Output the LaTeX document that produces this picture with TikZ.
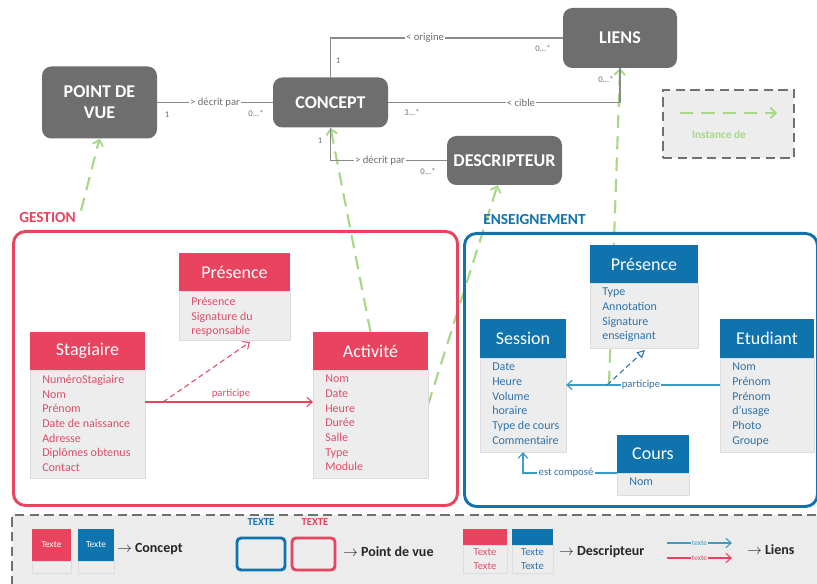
\documentclass[tikz,border=0pt]{standalone}
\usepackage{fontspec}
\setmainfont{Carlito}
\usetikzlibrary{arrows.meta,calc}
\definecolor{cred}{HTML}{E8435F}
\definecolor{cblue}{HTML}{0F74AE}
\definecolor{cgray}{HTML}{6E6E6E}
\definecolor{cbody}{HTML}{EDEDED}
\definecolor{cbodyline}{HTML}{DDDDDD}
\definecolor{cgreen}{HTML}{A6D888}
\definecolor{cattR}{HTML}{DC4F69}
\definecolor{cattB}{HTML}{2E73AA}
\definecolor{cline}{HTML}{8A8A8A}
\definecolor{clbl}{HTML}{6F6F6F}
\definecolor{cteal}{HTML}{3A9BC4}
\definecolor{clegbg}{HTML}{ECECEC}
\definecolor{cdash}{HTML}{707070}
\newcommand\hdrfont{\fontsize{13.5}{16}\selectfont}
\newcommand\attfont{\fontsize{9}{11}\selectfont}
\newcommand\lblfont{\fontsize{8}{9}\selectfont}
\newcommand\multfont{\fontsize{6.5}{7}\selectfont}
\pgfdeclarelayer{back}
\pgfsetlayers{back,main}
\begin{document}
\begin{tikzpicture}[x=0.75pt,y=-0.75pt,
  gnode/.style={fill=cgray, rounded corners=7pt, text=white, font=\bfseries\hdrfont, align=center, inner sep=0pt},
  ent/.style={anchor=north west, inner sep=0pt, outer sep=0pt},
  hdrR/.style={ent, fill=cred, text=white, font=\hdrfont},
  hdrB/.style={ent, fill=cblue, text=white, font=\hdrfont},
  body/.style={ent, fill=cbody, draw=cbodyline, line width=0.4pt},
  attR/.style={anchor=north west, inner sep=0pt, align=left, text=cattR, font=\attfont},
  attB/.style={anchor=north west, inner sep=0pt, align=left, text=cattB, font=\attfont},
  lnk/.style={draw=cline, line width=0.9pt},
  lbl/.style={fill=white, inner sep=1pt, text=clbl, font=\lblfont},
  mult/.style={inner sep=0pt, text=clbl, font=\multfont},
  inst/.style={draw=cgreen, line width=1.6pt, dash pattern=on 10pt off 6pt, -{Straight Barb[length=4pt,width=8pt,line width=1.4pt]}},
  rlink/.style={draw=cred, line width=0.8pt, -{Straight Barb[length=4pt,width=7pt]}},
  blink/.style={draw=cteal, line width=0.9pt, -{Straight Barb[length=4pt,width=7pt]}},
  grp/.style={anchor=north west, line width=2.2pt, rounded corners=9pt, inner sep=0pt},
  legtxt/.style={anchor=west, inner sep=0pt, font=\bfseries\fontsize{10.5}{12}\selectfont, text=black!85}
]
\useasboundingbox (0,0) rectangle (817,584);

% ---------- top level concepts ----------
\node[gnode, minimum width=115*0.75pt, minimum height=72*0.75pt] (pdv) at (99.5,102.5) {POINT DE\\VUE};
\node[gnode, minimum width=115*0.75pt, minimum height=50*0.75pt] (concept) at (330.5,102.5) {CONCEPT};
\node[gnode, minimum width=114*0.75pt, minimum height=60*0.75pt] (liens) at (620,38) {LIENS};
\node[gnode, minimum width=115*0.75pt, minimum height=49*0.75pt] (desc) at (504.5,160.5) {DESCRIPTEUR};

\draw[lnk] (concept.north) |- (liens.west);
\draw[lnk] (pdv.east) -- (concept.west);
\draw[lnk] (concept.east) -| (liens.south);
\draw[lnk] (concept.south) |- (desc.west);

\node[lbl] (lorig) at (425,38) {< origine};
\node[lbl] (ldec1) at (215,102.5) {> décrit par};
\node[lbl] (lcib) at (521,102.5) {< cible};
\node[lbl] (ldec2) at (380,160.5) {> décrit par};

\node[mult] (m1) at (338,61) {1};
\node[mult] (m2) at (543,48) {0...*};
\node[mult] (m3) at (167,115) {1};
\node[mult] (m4) at (256,113) {0...*};
\node[mult] (m5) at (412,112) {3...*};
\node[mult] (m6) at (606,79) {0...*};
\node[mult] (m7) at (320,141) {1};
\node[mult] (m8) at (428,171) {0...*};

% ---------- Instance de legend ----------
\node[ent, draw=cdash, dash pattern=on 7pt off 4pt, line width=1.3pt, fill=cbody, minimum width=131*0.75pt, minimum height=68*0.75pt] (instbox) at (663,90) {};
\coordinate (ia) at (680,113);
\coordinate (ib) at (777,113);
\draw[inst] (ia) -- (ib);
\node[inner sep=0pt, text=cgreen, font=\bfseries\fontsize{8.5}{10}\selectfont] (itxt) at (719,135) {Instance de};

% ---------- group boxes ----------
\node[grp, draw=cred, minimum width=444*0.75pt, minimum height=274*0.75pt] (gestion) at (12,230) {};
\node[grp, draw=cblue, minimum width=353*0.75pt, minimum height=273*0.75pt] (enseig) at (463,232) {};
\node[anchor=base west, inner sep=0pt, text=cred, font=\bfseries\fontsize{11.5}{13}\selectfont] (gtitle) at (19,223) {GESTION};
\node[anchor=base west, inner sep=0pt, text=cblue, font=\bfseries\fontsize{11.5}{13}\selectfont] (etitle) at (483,225) {ENSEIGNEMENT};

% ---------- GESTION entities ----------
\node[hdrR, minimum width=111*0.75pt, minimum height=38*0.75pt] (gpresH) at (179,253) {Présence};
\node[body, minimum width=111*0.75pt, minimum height=49*0.75pt] (gpresB) at (179,291) {};
\node[attR] (gpresT) at (191,297) {Présence\\Signature du\\responsable};

\node[hdrR, minimum width=115*0.75pt, minimum height=38*0.75pt] (stagH) at (30,332) {Stagiaire};
\node[body, minimum width=115*0.75pt, minimum height=108*0.75pt] (stagB) at (30,370) {};
\node[attR] (stagT) at (42,375) {NuméroStagiaire\\Nom\\Prénom\\Date de naissance\\Adresse\\Diplômes obtenus\\Contact};

\node[hdrR, minimum width=115*0.75pt, minimum height=38*0.75pt] (actH) at (313,332) {Activité};
\node[body, minimum width=115*0.75pt, minimum height=108*0.75pt] (actB) at (313,370) {};
\node[attR] (actT) at (325,375) {Nom\\Date\\Heure\\Durée\\Salle\\Type\\Module};

\draw[rlink] ($(stagB.north east)+(0,32)$) -- ($(actB.north west)+(0,32)$);
\node[inner sep=0pt, text=cattR, font=\lblfont] (gpart) at (231,394) {participe};
\coordinate (pG) at (163,402);
\draw[draw=cattR, line width=0.8pt, dash pattern=on 4pt off 2.5pt, -{Straight Barb[length=4pt,width=7pt]}] (pG) -- ($(gpresB.south)+(15.5,2)$);

% ---------- ENSEIGNEMENT entities ----------
\node[hdrB, minimum width=108*0.75pt, minimum height=38*0.75pt] (epresH) at (590,245) {Présence};
\node[body, minimum width=108*0.75pt, minimum height=65*0.75pt] (epresB) at (590,283) {};
\node[attB] (epresT) at (602,288) {Type\\Annotation\\Signature\\enseignant};

\node[hdrB, minimum width=86*0.75pt, minimum height=39*0.75pt] (sessH) at (480,319) {Session};
\node[body, minimum width=86*0.75pt, minimum height=94*0.75pt] (sessB) at (480,358) {};
\node[attB] (sessT) at (492,363) {Date\\Heure\\Volume\\horaire\\Type de cours\\Commentaire};

\node[hdrB, minimum width=94*0.75pt, minimum height=39*0.75pt] (etudH) at (720,319) {Etudiant};
\node[body, minimum width=94*0.75pt, minimum height=94*0.75pt] (etudB) at (720,358) {};
\node[attB] (etudT) at (732,363) {Nom\\Prénom\\Prénom\\d'usage\\Photo\\Groupe};

\node[hdrB, minimum width=72*0.75pt, minimum height=38*0.75pt] (coursH) at (617,435) {Cours};
\node[body, minimum width=72*0.75pt, minimum height=22*0.75pt] (coursB) at (617,473) {};
\node[attB] (coursT) at (629,478) {Nom};

\draw[blink] ($(etudB.north west)+(0,27)$) -- ($(sessB.north east)+(0,27)$);
\node[fill=white, inner sep=1pt, text=cattB, font=\lblfont] (epart) at (641,385) {participe};
\coordinate (pE) at (607,385);
\draw[draw=cattB, line width=0.8pt, dash pattern=on 4pt off 2.5pt, -{Triangle[open, length=6pt, width=6pt]}] (pE) -- ($(epresB.south)+(1,2)$);
\draw[blink] (coursH.south west) -| (sessB.south);
\node[fill=white, inner sep=1pt, text=cattB, font=\lblfont] (ecomp) at (566,473) {est composé};

% ---------- instance-of arrows (behind) ----------
\coordinate (instE) at (609,384);
\begin{pgfonlayer}{back}
\fill[clegbg] (12,515) rectangle (830,600);
\draw[inst] ($(gtitle.north west)+(62,-2)$) -- (pdv.south);
\draw[inst] ($(actH.north)+(0,0)$) -- (concept.south);
\draw[inst] ($(actB.north east)+(0,35)$) -- ($(desc.south)+(-7,0)$);
\draw[inst] (instE) -- (liens.south);
\end{pgfonlayer}

% ---------- bottom legend ----------
\draw[draw=cdash, line width=1.1pt, dash pattern=on 7pt off 4pt] (12,600) -- (12,515) -- (830,515);

\node[hdrR, font=\fontsize{7}{8}\selectfont, minimum width=39*0.75pt, minimum height=32*0.75pt] (lc1) at (32,529) {Texte};
\node[body, minimum width=39*0.75pt, minimum height=12*0.75pt] (lc1b) at (32,561) {};
\node[hdrB, font=\fontsize{7}{8}\selectfont, minimum width=36*0.75pt, minimum height=32*0.75pt] (lc2) at (78,529) {Texte};
\node[body, minimum width=36*0.75pt, minimum height=12*0.75pt] (lc2b) at (78,561) {};
\node[legtxt] (lcT) at (117,549) {$\rightarrow$ Concept};

\node[inner sep=0pt, text=cblue, font=\bfseries\fontsize{8}{9}\selectfont] (lpv1t) at (261,522) {TEXTE};
\node[ent, draw=cblue, line width=2.2pt, rounded corners=3pt, fill=cbody, minimum width=48*0.75pt, minimum height=32*0.75pt] (lpv1) at (237,538) {};
\node[inner sep=0pt, text=cred, font=\bfseries\fontsize{8}{9}\selectfont] (lpv2t) at (315,522) {TEXTE};
\node[ent, draw=cred, line width=2.2pt, rounded corners=3pt, fill=cbody, minimum width=43*0.75pt, minimum height=32*0.75pt] (lpv2) at (292,538) {};
\node[legtxt] (lpvT) at (343,552) {$\rightarrow$ Point de vue};

\node[hdrR, minimum width=44*0.75pt, minimum height=16*0.75pt] (ld1) at (463,529) {};
\node[body, minimum width=44*0.75pt, minimum height=28*0.75pt, align=center, text=cattR, font=\fontsize{8}{10.5}\selectfont] (ld1b) at (463,545) {Texte\\Texte};
\node[hdrB, minimum width=41*0.75pt, minimum height=16*0.75pt] (ld2) at (512,529) {};
\node[body, minimum width=41*0.75pt, minimum height=28*0.75pt, align=center, text=cattB, font=\fontsize{8}{10.5}\selectfont] (ld2b) at (512,545) {Texte\\Texte};
\node[legtxt] (ldT) at (559,552) {$\rightarrow$ Descripteur};

\coordinate (l1a) at (667,543);
\coordinate (l1b) at (732,543);
\coordinate (l2a) at (667,558);
\coordinate (l2b) at (732,558);
\draw[blink, line width=0.8pt] (l1a) -- node[fill=clegbg, inner sep=0.5pt, text=cteal, font=\fontsize{5.5}{6}\selectfont] (ll1) {texte} (l1b);
\draw[rlink] (l2a) -- node[fill=clegbg, inner sep=0.5pt, text=cattR, font=\fontsize{5.5}{6}\selectfont] (ll2) {texte} (l2b);
\node[legtxt] (llT) at (747,550) {$\rightarrow$ Liens};
\end{tikzpicture}
\end{document}
